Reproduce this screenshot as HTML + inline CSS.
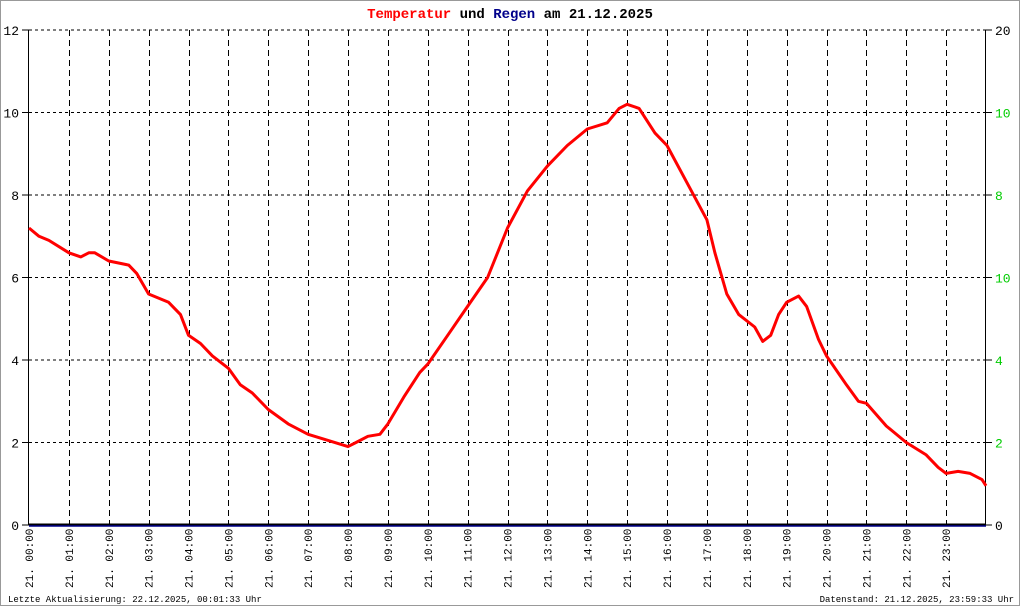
<!DOCTYPE html>
<html><head><meta charset="utf-8"><style>
html,body{margin:0;padding:0;background:#fff;}
svg{display:block;}
text{font-family:"Liberation Mono","DejaVu Sans Mono",monospace;}
</style></head><body>
<svg id="s" width="1020" height="606" xmlns="http://www.w3.org/2000/svg">
<rect x="0.5" y="0.5" width="1019" height="605" fill="#fff" stroke="#999"/>
<text x="510" y="18" text-anchor="middle" font-size="14" font-weight="bold"><tspan fill="#f00">Temperatur</tspan> <tspan fill="#000">und</tspan> <tspan fill="#00008b">Regen</tspan> <tspan fill="#000">am 21.12.2025</tspan></text>
<g id="g"></g>
<text x="8" y="602" font-size="9">Letzte Aktualisierung: 22.12.2025, 00:01:33 Uhr</text>
<text x="1014" y="602" font-size="9" text-anchor="end">Datenstand: 21.12.2025, 23:59:33 Uhr</text>
</svg>
<script>
var g=document.getElementById('g'),h='';
var X0=29,X1=986,Y0=525,YT=30,hw=(X1-X0)/24;
function X(t){return X0+hw*t}function Y(v){return Y0-(Y0-YT)*v/12}
for(var i=1;i<=6;i++){var y=Y(2*i);h+='<line x1="'+X0+'" x2="'+X1+'" y1="'+y+'" y2="'+y+'" stroke="#000" stroke-dasharray="3,3" stroke-width="1"/>';}
for(var i=1;i<24;i++){var x=Math.round(X(i))+0.5;h+='<line x1="'+x+'" x2="'+x+'" y1="'+YT+'" y2="'+Y0+'" stroke="#000" stroke-dasharray="6,4" stroke-width="1"/>';}
h+='<line x1="28.5" x2="28.5" y1="'+YT+'" y2="'+Y0+'" stroke="#000"/>';
h+='<line x1="985.5" x2="985.5" y1="'+YT+'" y2="'+Y0+'" stroke="#000"/>';
var rl=['0','2','4','10','8','10','20'],rc=['#000','#0c0','#0c0','#0c0','#0c0','#0c0','#000'];
for(var i=0;i<=6;i++){var y=Y(2*i);
h+='<line x1="22" x2="29" y1="'+y+'" y2="'+y+'" stroke="#000"/>';
h+='<line x1="985" x2="992" y1="'+y+'" y2="'+y+'" stroke="#000"/>';
h+='<text x="19" y="'+(y+5)+'" font-size="13" text-anchor="end" fill="#000">'+(2*i)+'</text>';
h+='<text x="995" y="'+(y+5)+'" font-size="13" fill="'+rc[i]+'">'+rl[i]+'</text>';}
for(var i=0;i<24;i++){var x=X(i)+4;var s=(i<10?'0':'')+i+':00';
h+='<text transform="translate('+x+',588) rotate(-90)" font-size="11">21. '+s+'</text>';}
var d=[[0,7.2],[.25,7],[.5,6.9],[1,6.6],[1.3,6.5],[1.5,6.6],[1.65,6.6],[2,6.4],[2.5,6.3],[2.7,6.1],[3,5.6],[3.5,5.4],[3.8,5.1],[4,4.6],[4.3,4.4],[4.6,4.1],[5,3.8],[5.3,3.4],[5.6,3.2],[6,2.8],[6.5,2.45],[7,2.2],[7.5,2.05],[8,1.9],[8.2,2],[8.5,2.15],[8.8,2.2],[9,2.45],[9.4,3.1],[9.8,3.7],[10,3.9],[10.5,4.6],[11,5.3],[11.5,6],[12,7.2],[12.5,8.1],[13,8.7],[13.5,9.2],[14,9.6],[14.5,9.75],[14.8,10.1],[15,10.2],[15.3,10.1],[15.7,9.5],[16,9.2],[16.5,8.3],[17,7.4],[17.2,6.6],[17.5,5.6],[17.8,5.1],[18.2,4.8],[18.4,4.45],[18.6,4.6],[18.8,5.1],[19,5.4],[19.3,5.55],[19.5,5.3],[19.8,4.5],[20,4.1],[20.5,3.4],[20.8,3],[21,2.95],[21.5,2.4],[22,2],[22.5,1.7],[22.8,1.4],[23,1.25],[23.3,1.3],[23.6,1.25],[23.9,1.1],[24,0.95]];
var p='';for(var i=0;i<d.length;i++){p+=(i?'L':'M')+X(d[i][0]).toFixed(1)+','+Y(d[i][1]).toFixed(1);}
h+='<path d="'+p+'" fill="none" stroke="#f00" stroke-width="3" stroke-linejoin="round"/>';
h+='<line x1="29" x2="986" y1="524.5" y2="524.5" stroke="#000" stroke-width="2"/>';
h+='<line x1="29" x2="986" y1="526" y2="526" stroke="#00008b" stroke-width="1.5"/>';
g.innerHTML=h;
</script>
</body></html>
